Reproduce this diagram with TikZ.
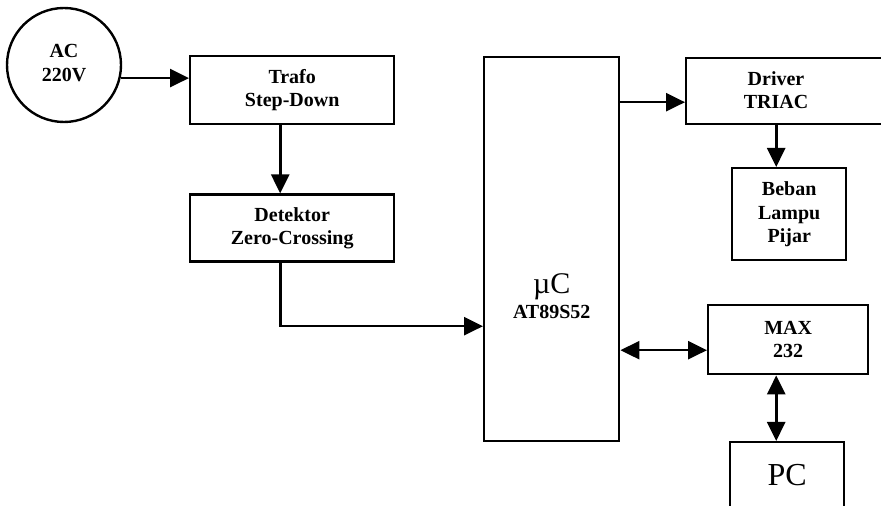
\documentclass[tikz,border=0pt]{standalone}
\usepackage{fontspec}
\setmainfont{Liberation Serif}
\usepackage{tikz}
\usetikzlibrary{arrows.meta,positioning}

\begin{document}
\begin{tikzpicture}[
  x=1pt, y=1pt,
  block/.style={draw, line width=1.2pt, align=center, inner sep=0pt, font=\fontsize{10}{11.7}\selectfont\bfseries},
  lbl/.style={align=center, inner sep=0pt, font=\fontsize{10}{11.7}\selectfont\bfseries},
  arr/.style={-{Triangle[length=9.5pt,width=9pt]}, line width=1.3pt},
  darr/.style={{Triangle[length=9.5pt,width=9pt]}-{Triangle[length=9.5pt,width=9pt]}, line width=1.3pt}
]
\useasboundingbox (0,0) rectangle (440.5,-253);
\clip (0,0) rectangle (440.5,-253);

\node[block, circle, minimum size=57pt] (ac) at (32,-32.5) {\raisebox{2pt}{\begin{tabular}{@{}c@{}}AC\\220V\end{tabular}}};
\node[block, anchor=north west, minimum width=102pt, minimum height=34pt] (trafo) at (94.5,-27.5) {Trafo\\Step-Down};
\node[block, below=34pt of trafo, minimum width=102pt, minimum height=33.5pt] (det) {Detektor\\Zero-Crossing};

\node[block, anchor=north west, minimum width=67.5pt, minimum height=192pt] (mc) at (241.5,-28) {};
\node[lbl, font=\fontsize{15}{15}\selectfont] (mcname) at ([yshift=-19pt]mc.center) {µC};
\node[lbl, below=2pt of mcname] (mctype) {AT89S52};

\node[block, anchor=north west, minimum width=110pt, minimum height=33pt] (drv) at (342.5,-28.5) {};
\node[lbl] (drvtext) at (388,-45) {Driver\\TRIAC};
\node[block, anchor=north west, minimum width=57pt, minimum height=46pt] (beban) at (365.5,-83.5) {Beban\\Lampu\\Pijar};

\node[block, anchor=north west, minimum width=80pt, minimum height=34.5pt] (max) at (353.5,-152) {MAX\\232};
\node[block, anchor=north west, minimum width=57pt, minimum height=40pt, font=\fontsize{16}{16}\selectfont] (pc) at (364.5,-220.5) {\raisebox{7pt}{PC}};

% connectors
\coordinate (d1) at ([yshift=-5.5pt]drv.west);
\coordinate (m1) at ([yshift=-5.25pt]max.west);
\coordinate (z1) at ([yshift=-38.5pt]mc.west);

\draw[arr] (ac.-13) -- (ac.-13 -| trafo.west);
\draw[arr] ([xshift=-6pt]trafo.south) -- ([xshift=-6pt]det.north);
\draw[arr] ([xshift=-6pt]det.south) |- (z1);
\draw[arr] (mc.east |- d1) -- (d1);
\draw[arr] ([xshift=-6.5pt]beban.north |- drv.south) -- ([xshift=-6.5pt]beban.north);
\draw[darr] (mc.east |- m1) -- (m1);
\draw[darr] ([xshift=-6pt]max.south) -- ([xshift=-6pt]max.south |- pc.north);
\end{tikzpicture}
\end{document}
